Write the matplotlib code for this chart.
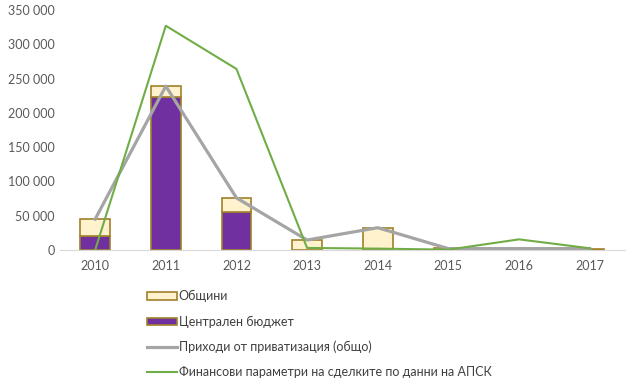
import matplotlib.pyplot as plt
import numpy as np
from matplotlib.patches import Patch
from matplotlib.lines import Line2D
from matplotlib.ticker import FuncFormatter

plt.rcParams['font.family'] = ['Lato', 'DejaVu Sans']

years = ['2010', '2011', '2012', '2013', '2014', '2015', '2016', '2017']
central = [21000, 223000, 55500, 0, 0, 0, 0, 0]
municipal = [24500, 15500, 20500, 14500, 32500, 2500, 0, 2000]
privatization = [45000, 239000, 76000, 14500, 32500, 2000, 2000, 2000]
apsk = [0, 327000, 264000, 3000, 2000, 500, 15500, 2500]

labels = ['Общини', 'Централен бюджет', 'Приходи от приватизация (общо)',
          'Финансови параметри на сделките по данни на АПСК']

x = np.arange(len(years))
edge = '#A0802A'

fig = plt.figure(figsize=(6.3, 3.84), dpi=100)
ax = fig.add_axes([0.095, 0.349, 0.897, 0.625])

ax.bar(x, central, width=0.42, color='#7030A0', edgecolor=edge, linewidth=1.2, zorder=2)
ax.bar(x, municipal, width=0.42, bottom=central, color='#FFF2CC', edgecolor=edge, linewidth=1.2, zorder=2)
ax.plot(x, privatization, color='#A5A5A5', linewidth=2.3, zorder=3)
ax.plot(x, apsk, color='#70AD47', linewidth=1.5, zorder=4)

ax.set_xlim(-0.5, 7.5)
ax.set_ylim(0, 350000)
ax.set_yticks(np.arange(0, 350001, 50000))
ax.yaxis.set_major_formatter(FuncFormatter(lambda v, p: f'{int(v):,}'.replace(',', ' ')))
ax.set_xticks(x)
ax.set_xticklabels(years)
ax.tick_params(axis='both', length=0, labelsize=9, colors='#595959')
ax.tick_params(axis='x', pad=7)
for s in ['top', 'right', 'left']:
    ax.spines[s].set_visible(False)
ax.spines['bottom'].set_color('#D9D9D9')

handles = [Patch(facecolor='#FFF2CC', edgecolor=edge, linewidth=1.2),
           Patch(facecolor='#7030A0', edgecolor=edge, linewidth=1.2),
           Line2D([0], [0], color='#A5A5A5', linewidth=2.3),
           Line2D([0], [0], color='#70AD47', linewidth=1.5)]
fig.legend(handles, labels, loc='upper left', bbox_to_anchor=(0.233, 0.244),
           frameon=False, fontsize=9, handlelength=2.4, handleheight=0.5,
           handletextpad=0.15, labelspacing=1.05, labelcolor='#404040',
           borderaxespad=0, borderpad=0)

fig.savefig('out.png', dpi=100)
